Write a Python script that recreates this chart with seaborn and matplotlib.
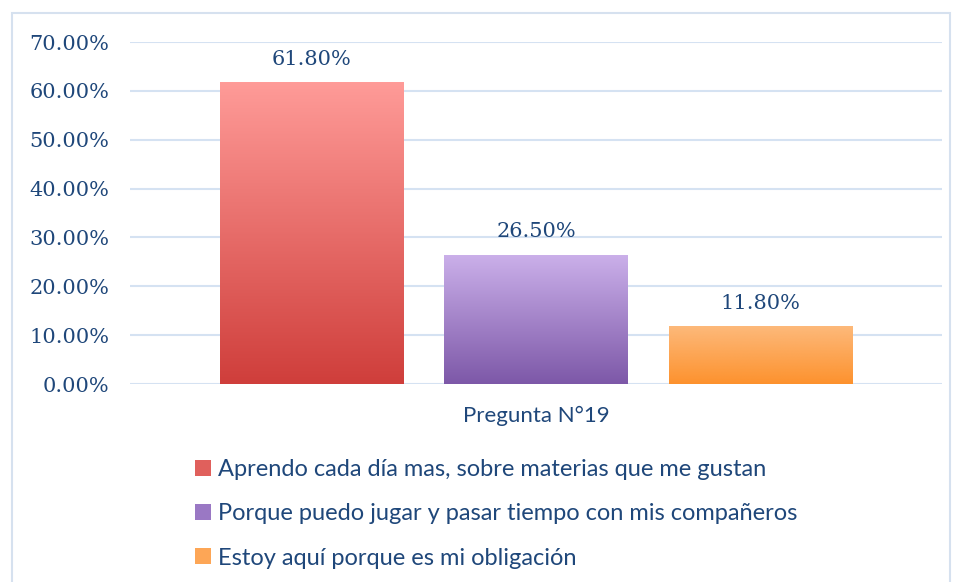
import matplotlib
matplotlib.use("Agg")
import matplotlib.pyplot as plt
import matplotlib.patches as mpatches
import numpy as np
import pandas as pd
import seaborn as sns
from matplotlib.colors import LinearSegmentedColormap

question = "Pregunta N°19"
answers = [
    "Aprendo cada día mas, sobre materias que me gustan",
    "Porque puedo jugar y pasar tiempo con mis compañeros",
    "Estoy aquí porque es mi obligación",
]
shares = [0.618, 0.265, 0.118]
top_colors = ["#FF9B98", "#CBB0EA", "#FDB97A"]
bottom_colors = ["#CF3E3B", "#7D58A8", "#FD922E"]
legend_colors = ["#E0605C", "#9A78C4", "#FDA656"]

text_color = "#1F477A"
grid_color = "#D5E2F2"
num_font = ["DejaVu Serif"]
txt_font = ["Lato", "DejaVu Sans"]

df = pd.DataFrame({"question": [question] * 3, "answer": answers, "share": shares})

sns.set_style("white")
fig = plt.figure(figsize=(9.55, 5.82), dpi=100)
ax = fig.add_axes([130 / 955, 1 - 384 / 582, 812 / 955, 342 / 582])

sns.barplot(
    data=df, x="question", y="share", hue="answer", hue_order=answers,
    palette=bottom_colors, width=0.83, gap=0.185, legend=False, ax=ax,
)

# vertical gradient fill on each bar
bars = [p for p in ax.patches if isinstance(p, mpatches.Rectangle)][:3]
for i, (bar, top, bot) in enumerate(zip(bars, top_colors, bottom_colors)):
    x0, y0 = bar.get_x(), bar.get_y()
    w, h = bar.get_width(), bar.get_height()
    cmap = LinearSegmentedColormap.from_list("g", [bot, top])
    grad = np.linspace(0, 1, 256).reshape(-1, 1)
    im = ax.imshow(grad, cmap=cmap, origin="lower", aspect="auto",
                   extent=(x0, x0 + w, y0, y0 + h), zorder=3)
    im.set_clip_path(bar)
    bar.set_edgecolor("none")
    ax.text(x0 + w / 2, y0 + h + 0.027, f"{shares[i] * 100:.2f}%",
            ha="center", va="bottom", fontsize=15, color=text_color,
            family=num_font)

ax.set_xlim(-0.5, 0.5)
ax.set_ylim(0, 0.7)
ticks = np.arange(0, 0.71, 0.1)
ax.set_yticks(ticks)
ax.set_yticklabels([f"{v * 100:.2f}%" for v in ticks],
                   fontsize=15, color=text_color, family=num_font)
ax.tick_params(axis="y", length=0, pad=15)
ax.tick_params(axis="x", length=0, pad=16)
ax.set_xticks([0])
ax.set_xticklabels([question], fontsize=16, color=text_color, family=txt_font)
ax.set_xlabel("")
ax.set_ylabel("")
ax.yaxis.grid(True, color=grid_color, linewidth=1.5)
ax.set_axisbelow(True)
for s in ax.spines.values():
    s.set_visible(False)

handles = [mpatches.Patch(facecolor=c, edgecolor="none") for c in legend_colors]
fig.legend(
    handles, answers, loc="upper left",
    bbox_to_anchor=(174 / 955, 1 - 438 / 582), frameon=False,
    prop={"family": txt_font, "size": 17}, labelcolor=text_color,
    handlelength=0.65, handleheight=0.65, handletextpad=0.3, labelspacing=0.98,
)

# outer chart frame
fig.patches.append(mpatches.Rectangle(
    (12 / 955, -0.01), 938 / 955, 1 - 13 / 582 + 0.01,
    transform=fig.transFigure, fill=False, edgecolor="#D6E1EF", linewidth=1.5))

fig.savefig("out.png", dpi=100)
